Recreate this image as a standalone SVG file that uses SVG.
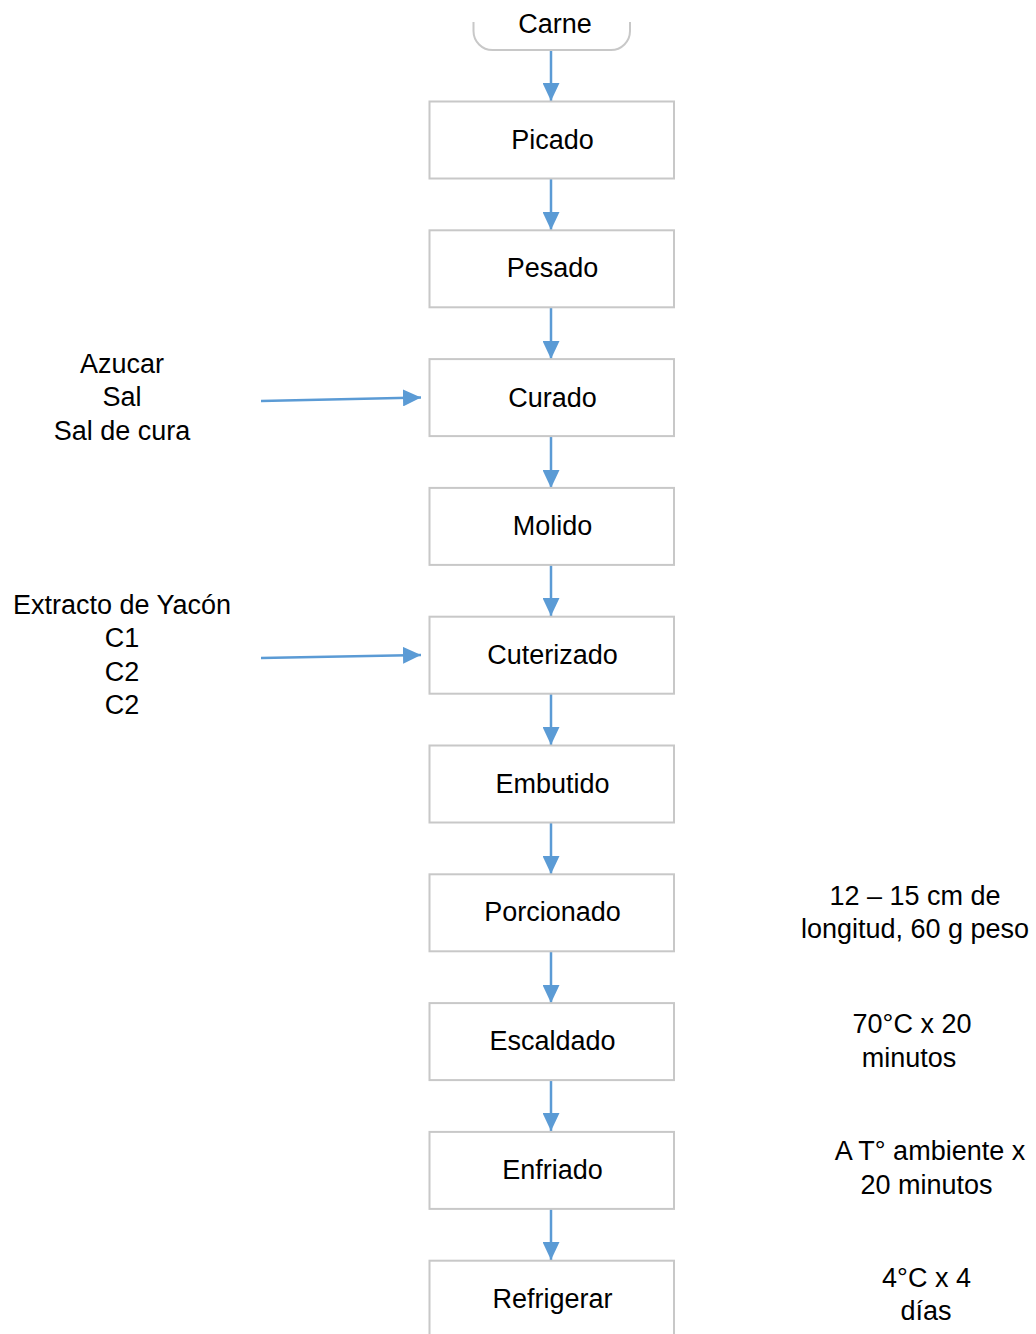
<svg xmlns="http://www.w3.org/2000/svg" width="1036" height="1334" viewBox="0 0 1036 1334">
<style>
.box{fill:#fff;stroke:#c8c8c8;stroke-width:2}
.t{font-family:"Liberation Sans",Arial,sans-serif;font-size:27px;fill:#000;text-anchor:middle}
.c{stroke:#5b9bd5;stroke-width:2.5;fill:none}
</style>
<defs>
<marker id="ah" markerUnits="userSpaceOnUse" markerWidth="18" markerHeight="17" refX="18" refY="8.5" orient="auto" viewBox="0 0 18 17">
<path d="M0,0 L18,8.5 L0,17 z" fill="#5b9bd5"/>
</marker>
</defs>
<rect width="1036" height="1334" fill="#fff"/>
<g id="connectors">
<line class="c" x1="551" y1="50" x2="551" y2="101" marker-end="url(#ah)"/>
<line class="c" x1="551" y1="178" x2="551" y2="230" marker-end="url(#ah)"/>
<line class="c" x1="551" y1="307" x2="551" y2="359" marker-end="url(#ah)"/>
<line class="c" x1="551" y1="436" x2="551" y2="488" marker-end="url(#ah)"/>
<line class="c" x1="551" y1="565" x2="551" y2="616" marker-end="url(#ah)"/>
<line class="c" x1="551" y1="693" x2="551" y2="745" marker-end="url(#ah)"/>
<line class="c" x1="551" y1="822" x2="551" y2="874" marker-end="url(#ah)"/>
<line class="c" x1="551" y1="951" x2="551" y2="1003" marker-end="url(#ah)"/>
<line class="c" x1="551" y1="1080" x2="551" y2="1131" marker-end="url(#ah)"/>
<line class="c" x1="551" y1="1208" x2="551" y2="1260" marker-end="url(#ah)"/>
<line class="c" x1="261" y1="401" x2="421" y2="397.5" marker-end="url(#ah)"/>
<line class="c" x1="261" y1="658" x2="421" y2="655" marker-end="url(#ah)"/>
</g>
<g id="carne">
<path d="M473.5,22 V31 A19,19 0 0 0 492.5,50 H611 A19,19 0 0 0 630,31 V22" fill="none" stroke="#c8c8c8" stroke-width="2"/>
<text class="t" x="555" y="33">Carne</text>
</g>
<g id="picado"><rect class="box" x="429.5" y="101.5" width="244.5" height="77"/><text class="t" x="552.5" y="148.5">Picado</text></g>
<g id="pesado"><rect class="box" x="429.5" y="230.3" width="244.5" height="77"/><text class="t" x="552.5" y="277.3">Pesado</text></g>
<g id="curado"><rect class="box" x="429.5" y="359.1" width="244.5" height="77"/><text class="t" x="552.5" y="406.5">Curado</text></g>
<g id="molido"><rect class="box" x="429.5" y="487.9" width="244.5" height="77"/><text class="t" x="552.5" y="535">Molido</text></g>
<g id="cuterizado"><rect class="box" x="429.5" y="616.7" width="244.5" height="77"/><text class="t" x="552.5" y="663.8">Cuterizado</text></g>
<g id="embutido"><rect class="box" x="429.5" y="745.5" width="244.5" height="77"/><text class="t" x="552.5" y="792.6">Embutido</text></g>
<g id="porcionado"><rect class="box" x="429.5" y="874.3" width="244.5" height="77"/><text class="t" x="552.5" y="921.4">Porcionado</text></g>
<g id="escaldado"><rect class="box" x="429.5" y="1003.1" width="244.5" height="77"/><text class="t" x="552.5" y="1050.2">Escaldado</text></g>
<g id="enfriado"><rect class="box" x="429.5" y="1131.9" width="244.5" height="77"/><text class="t" x="552.5" y="1179">Enfriado</text></g>
<g id="refrigerar"><rect class="box" x="429.5" y="1260.7" width="244.5" height="77"/><text class="t" x="552.5" y="1307.8">Refrigerar</text></g>
<g id="ingredientes-curado">
<text class="t" x="122" y="373">Azucar</text>
<text class="t" x="122" y="406.3">Sal</text>
<text class="t" x="122" y="439.6">Sal de cura</text>
</g>
<g id="extracto">
<text class="t" x="122" y="613.5">Extracto de Yacón</text>
<text class="t" x="122" y="647">C1</text>
<text class="t" x="122" y="680.5">C2</text>
<text class="t" x="122" y="714">C2</text>
</g>
<g id="nota-porcionado">
<text class="t" x="915" y="904.5">12 – 15 cm de</text>
<text class="t" x="915" y="938">longitud, 60 g peso</text>
</g>
<g id="nota-escaldado">
<text class="t" x="912" y="1033.3">70°C x 20</text>
<text class="t" x="909" y="1066.8">minutos</text>
</g>
<g id="nota-enfriado">
<text class="t" x="930" y="1160">A T° ambiente x</text>
<text class="t" x="926.5" y="1193.5">20 minutos</text>
</g>
<g id="nota-refrigerar">
<text class="t" x="926.5" y="1286.5">4°C x 4</text>
<text class="t" x="926" y="1320">días</text>
</g>
</svg>
